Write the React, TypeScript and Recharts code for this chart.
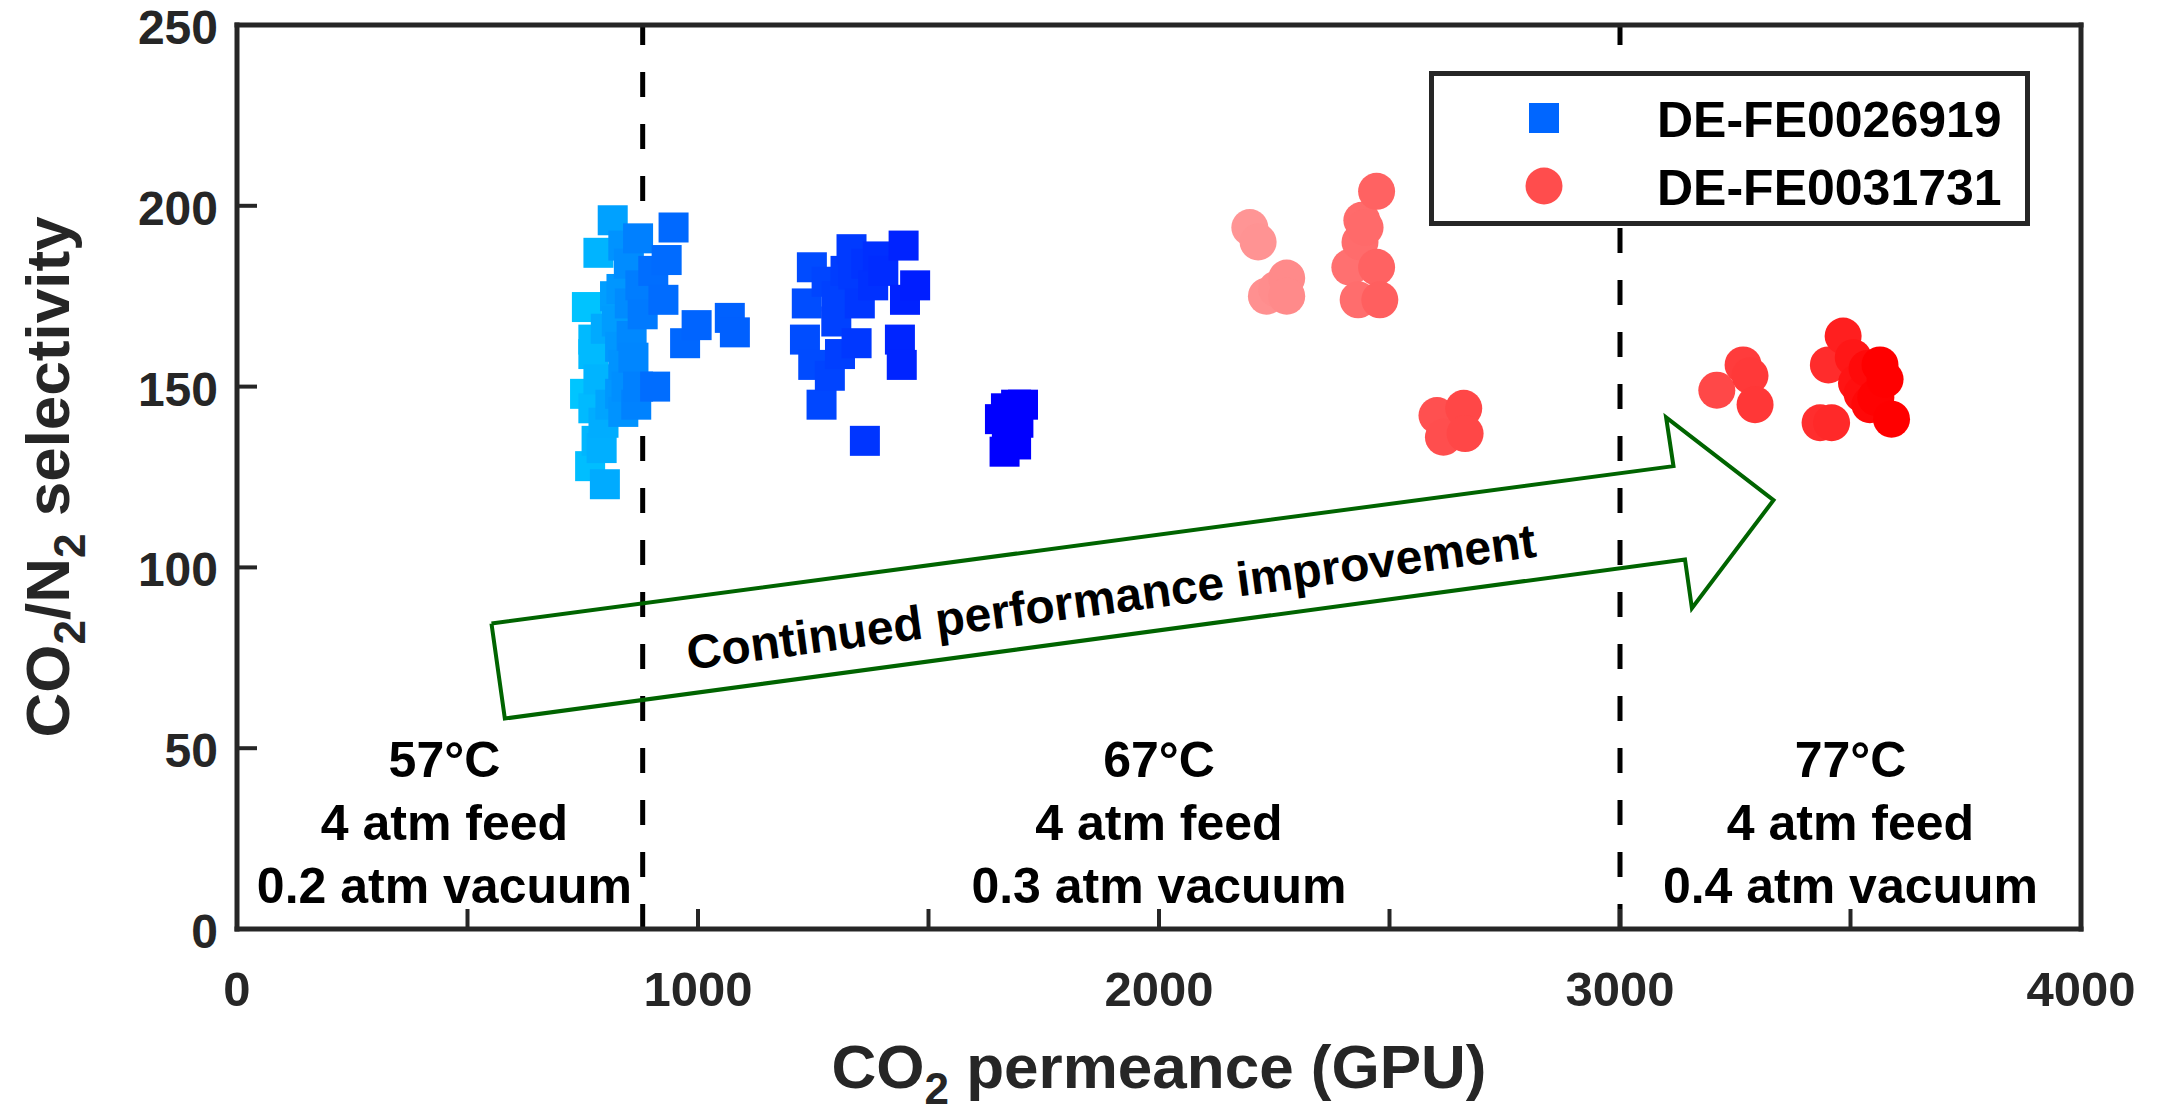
import React from "react";
import { ScatterChart, Scatter, XAxis, YAxis, ReferenceLine } from "recharts";

const FONT = "'Liberation Sans', Arial, Helvetica, sans-serif";
const AXIS = "#262626";
const GREEN = "#006400";

const X_TICKS = [0, 500, 1000, 1500, 2000, 2500, 3000, 3500, 4000];
const Y_TICKS = [0, 50, 100, 150, 200, 250];
const CONDITION_LINES = [880, 3000];

const SERIES_NAMES = ["DE-FE0026919", "DE-FE0031731"];

// DE-FE0026919, [CO2 permeance (GPU), CO2/N2 selectivity]
const blue57 = [
  [815, 196], [784, 187], [838, 189], [850, 184], [870, 191], [759, 172], [834, 177],
  [852, 173], [875, 178], [773, 163], [824, 168], [856, 164], [880, 170], [831, 161],
  [838, 156], [773, 159], [784, 152], [755, 148], [831, 148], [870, 150], [773, 144],
  [838, 143], [795, 140], [866, 145], [791, 133], [766, 128], [798, 123], [780, 135],
  [860, 158], [845, 150], [810, 145], [820, 175], [800, 166],
];
const blue67a = [
  [947, 194], [932, 185], [903, 182], [925, 174], [997, 167], [972, 162], [1069, 169],
  [1080, 165], [907, 150],
];
const blue67b = [
  [1333, 188], [1446, 189], [1247, 183], [1236, 173], [1279, 179], [1337, 181], [1402, 182],
  [1471, 178], [1351, 173], [1449, 174], [1232, 163], [1344, 162], [1438, 163], [1308, 159],
  [1442, 156], [1286, 153], [1250, 156], [1268, 145], [1362, 135],
  [1301, 175], [1300, 168], [1380, 178], [1365, 184], [1390, 186], [1320, 182],
];
const blue67c = [
  [1655, 141], [1668, 144], [1690, 145], [1705, 145], [1670, 138], [1695, 140], [1665, 132], [1690, 134],
];

// DE-FE0031731
const red67 = [
  [2197, 194], [2215, 190], [2233, 175], [2277, 180], [2277, 175], [2255, 177],
  [2472, 204], [2440, 196], [2447, 194], [2436, 190], [2414, 183], [2472, 183], [2432, 174], [2479, 174],
  [2603, 142], [2661, 144], [2617, 136], [2664, 137],
];
const red77 = [
  [3210, 149], [3267, 156], [3282, 153], [3293, 145],
  [3484, 164], [3452, 156], [3506, 158], [3564, 156], [3575, 152], [3513, 151], [3542, 145],
  [3434, 140], [3459, 140], [3589, 141], [3536, 155], [3525, 148], [3555, 147],
];

const REGION_X = [450, 2000, 3500];
const REGION_TEXT = [
  ["57°C", "4 atm feed", "0.2 atm vacuum"],
  ["67°C", "4 atm feed", "0.3 atm vacuum"],
  ["77°C", "4 atm feed", "0.4 atm vacuum"],
];
const REGION_Y = 42;

// arrow outline in data units
const ARROW_PTS = [
  [552, 84.5], [3116, 128], [3100, 141.5], [3333, 118.6], [3156, 88.7], [3141, 102.2], [581, 58.2], [552, 84.5],
];
const ARROW_LABEL = "Continued performance improvement";
const ARROW_LABEL_AT = [1896, 92];

const toPts = (arr: number[][]) => arr.map(([x, y]) => ({ x, y }));
const blueData = toPts([...blue57, ...blue67a, ...blue67b, ...blue67c]).sort((a, b) => a.x - b.x);
const redData = toPts([...red67, ...red77]).sort((a, b) => a.x - b.x);
const arrowData = toPts(ARROW_PTS);
const regionData = REGION_X.map((x, i) => ({ x, y: REGION_Y, lines: REGION_TEXT[i] }));
const arrowLabelData = [{ x: ARROW_LABEL_AT[0], y: ARROW_LABEL_AT[1] }];

// colour ramps (green/blue channel vs permeance)
const BLUE_STOPS = [[750, 200], [800, 170], [850, 140], [900, 110], [1000, 100], [1100, 95], [1250, 75], [1350, 55], [1470, 30], [1650, 0]];
const RED_STOPS = [[2190, 150], [2300, 135], [2450, 105], [2480, 95], [2600, 80], [2670, 70], [3210, 72], [3290, 55], [3450, 45], [3500, 25], [3560, 0]];

function ramp(stops: number[][], x: number) {
  if (x <= stops[0][0]) return stops[0][1];
  for (let i = 1; i < stops.length; i++) {
    if (x <= stops[i][0]) {
      const [x0, v0] = stops[i - 1];
      const [x1, v1] = stops[i];
      return v0 + ((x - x0) / (x1 - x0)) * (v1 - v0);
    }
  }
  return stops[stops.length - 1][1];
}
const blueFill = (x: number) => `rgb(0,${Math.round(ramp(BLUE_STOPS, x))},255)`;
const redFill = (x: number) => {
  const v = Math.round(ramp(RED_STOPS, x));
  return `rgb(255,${v},${v})`;
};

const Square = (p: any) => (
  <rect x={p.cx - 15} y={p.cy - 15} width={30} height={30} fill={blueFill(p.payload.x)} />
);
const Dot = (p: any) => <circle cx={p.cx} cy={p.cy} r={18.5} fill={redFill(p.payload.x)} />;
const Nothing = () => <g />;

const RegionText = (p: any) => (
  <text x={p.cx} y={p.cy} textAnchor="middle" fontFamily={FONT} fontWeight="bold" fontSize={50} fill="#000">
    {p.payload.lines.map((s: string, i: number) => (
      <tspan key={i} x={p.cx} dy={i === 0 ? 0 : 63}>{s}</tspan>
    ))}
  </text>
);

const ArrowText = (p: any) => (
  <text
    transform={`translate(${p.cx},${p.cy}) rotate(-7.6)`}
    textAnchor="middle"
    dy={17}
    fontFamily={FONT}
    fontWeight="bold"
    fontSize={48}
    fill="#000"
  >
    {ARROW_LABEL}
  </text>
);

const XTick = (p: any) => {
  const v = p.payload.value;
  if (v % 1000 !== 0) return <g />;
  return (
    <text x={p.x} y={p.y + 35} textAnchor="middle" fontFamily={FONT} fontWeight="bold" fontSize={49} fill={AXIS}>
      {v}
    </text>
  );
};

const YTick = (p: any) => (
  <text x={p.x} y={p.y + 19} textAnchor="end" fontFamily={FONT} fontWeight="bold" fontSize={48} fill={AXIS}>
    {p.payload.value}
  </text>
);

const XTitle = (p: any) => {
  const vb = p.viewBox || { x: 237, y: 929, width: 1844, height: 183 };
  return (
    <text x={vb.x + vb.width / 2} y={1088} textAnchor="middle" fontFamily={FONT} fontWeight="bold" fontSize={62} fill={AXIS}>
      <tspan>CO</tspan>
      <tspan fontSize={44} dy={16}>2</tspan>
      <tspan dy={-16}> permeance (GPU)</tspan>
    </text>
  );
};

const YTitle = (p: any) => {
  const vb = p.viewBox || { x: 0, y: 25, width: 237, height: 904 };
  const cy = vb.y + vb.height / 2;
  return (
    <text transform={`translate(69,${cy}) rotate(-90)`} textAnchor="middle" fontFamily={FONT} fontWeight="bold" fontSize={62} fill={AXIS}>
      <tspan>CO</tspan>
      <tspan fontSize={44} dy={16}>2</tspan>
      <tspan dy={-16}>/N</tspan>
      <tspan fontSize={44} dy={16}>2</tspan>
      <tspan dy={-16}> selectivity</tspan>
    </text>
  );
};

function Legend() {
  return (
    <div
      style={{
        position: "absolute", left: 1429, top: 71, width: 601, height: 155,
        boxSizing: "border-box", border: `5px solid ${AXIS}`, background: "#fff",
      }}
    >
      <svg width={591} height={145} style={{ display: "block" }}>
        <rect x={95} y={27} width={30} height={30} fill="#0066ff" />
        <circle cx={110} cy={110} r={18.5} fill="#ff4d4d" />
        {SERIES_NAMES.map((name, i) => (
          <text key={name} x={223} y={i === 0 ? 61 : 129} fontFamily={FONT} fontWeight="bold" fontSize={50} fill="#000">
            {name}
          </text>
        ))}
      </svg>
    </div>
  );
}

export default function App() {
  const lineStyle = { stroke: AXIS, strokeWidth: 5, strokeLinecap: "square" as const };
  const tickStyle = { stroke: AXIS, strokeWidth: 4 };
  return (
    <div style={{ position: "absolute", left: 0, top: 0, width: 2165, height: 1112, background: "#fff" }}>
      <ScatterChart width={2165} height={1112} margin={{ top: 24, right: 83, bottom: 0, left: 0 }}>
        <XAxis
          xAxisId="b" type="number" dataKey="x" domain={[0, 4000]} ticks={X_TICKS} interval={0}
          allowDataOverflow orientation="bottom" height={183} stroke={AXIS}
          axisLine={lineStyle} tickLine={tickStyle} tickSize={-20} tickMargin={62}
          tick={<XTick />} label={<XTitle />}
        />
        <XAxis
          xAxisId="t" type="number" dataKey="x" domain={[0, 4000]} ticks={X_TICKS} interval={0}
          allowDataOverflow orientation="top" height={1} stroke={AXIS}
          axisLine={lineStyle} tickLine={tickStyle} tickSize={-20} tick={false}
        />
        <YAxis
          yAxisId="l" type="number" dataKey="y" domain={[0, 250]} ticks={Y_TICKS} interval={0}
          allowDataOverflow orientation="left" width={237} stroke={AXIS}
          axisLine={lineStyle} tickLine={tickStyle} tickSize={-20} tickMargin={39}
          tick={<YTick />} label={<YTitle />}
        />
        <YAxis
          yAxisId="r" type="number" dataKey="y" domain={[0, 250]} ticks={Y_TICKS} interval={0}
          allowDataOverflow orientation="right" width={1} stroke={AXIS}
          axisLine={lineStyle} tickLine={tickStyle} tickSize={-20} tick={false}
        />

        <Scatter name={SERIES_NAMES[0]} xAxisId="b" yAxisId="l" data={blueData} shape={Square} isAnimationActive={false} />
        <Scatter name={SERIES_NAMES[1]} xAxisId="b" yAxisId="l" data={redData} shape={Dot} isAnimationActive={false} />

        {CONDITION_LINES.map((x) => (
          <ReferenceLine key={x} xAxisId="b" yAxisId="l" x={x} stroke="#000" strokeWidth={5} strokeDasharray="25 27" />
        ))}

        <Scatter
          xAxisId="t" yAxisId="r" data={arrowData} fill={GREEN} shape={Nothing}
          line={{ stroke: GREEN, strokeWidth: 4, strokeLinejoin: "miter" }} lineType="joint"
          isAnimationActive={false} legendType="none"
        />
        <Scatter xAxisId="b" yAxisId="l" data={arrowLabelData} shape={ArrowText} isAnimationActive={false} legendType="none" />
        <Scatter xAxisId="b" yAxisId="l" data={regionData} shape={RegionText} isAnimationActive={false} legendType="none" />
      </ScatterChart>
      <Legend />
    </div>
  );
}
